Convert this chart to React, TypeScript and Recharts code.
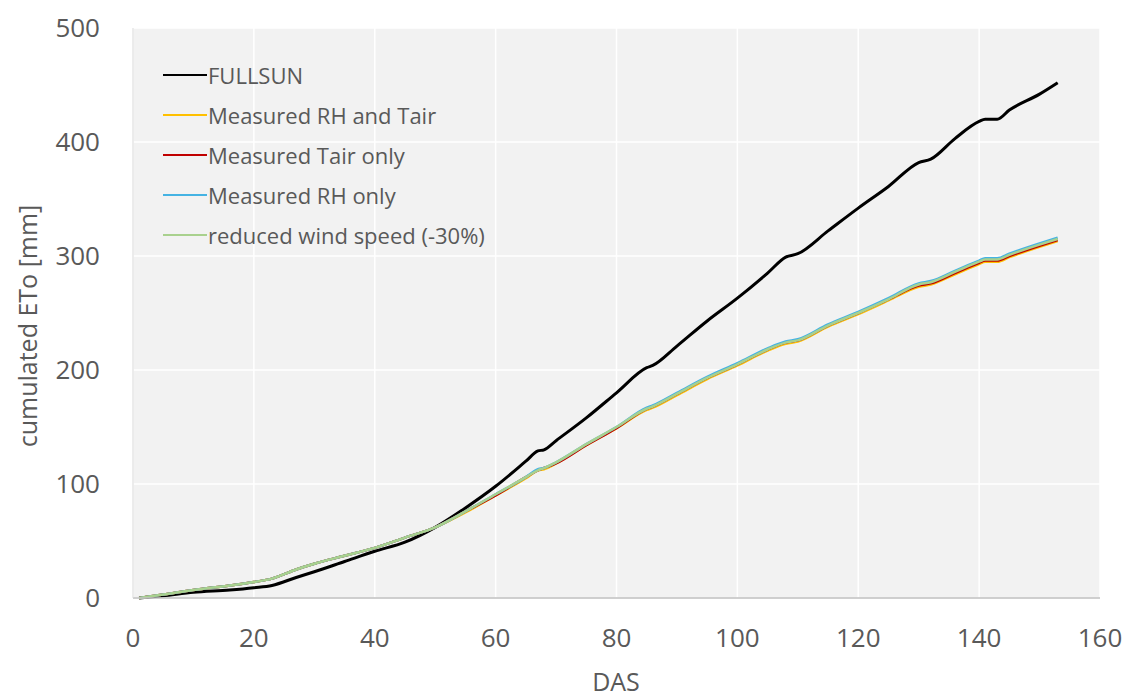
import React from 'react'
import {
  LineChart,
  Line,
  XAxis,
  YAxis,
  CartesianGrid,
  Legend,
} from 'recharts'

// DAS sample points
const das = [1, 5, 10, 16, 20, 23, 27, 30, 35, 40, 45, 50, 55, 60, 65, 67, 68, 70, 75, 80, 85, 86, 90, 95, 100, 105, 108, 110, 115, 120, 125, 130, 132, 136, 140, 141, 143, 145, 150, 153]

const fullsun = [0, 2, 5, 7, 9, 11, 18, 23, 32, 41, 49, 62, 79, 98, 120, 129, 130, 138, 158, 180, 202, 204, 221, 243, 263, 285, 299, 302, 322, 342, 361, 382, 385, 403, 418, 420, 420, 428, 442, 452]
const rhAndTair = [0, 3, 7, 11, 14, 17, 25, 30, 37, 44, 53, 62, 75, 90, 105, 112, 113, 118, 134, 149, 165, 167, 178, 192, 204, 217, 223, 225, 238, 249, 261, 273, 275, 284, 293, 295, 295, 299, 308, 313]
const tairOnly = [0, 3, 7, 11, 14, 17, 25, 30, 37, 44, 53, 62, 76, 90, 106, 112, 114, 118, 134, 149, 166, 168, 179, 193, 205, 218, 224, 226, 239, 250, 262, 274, 276, 285, 294, 296, 296, 300, 309, 314]
const rhOnly = [0, 3, 7, 11, 14, 17, 25, 30, 37, 44, 53, 62, 76, 91, 106, 113, 114, 119, 135, 150, 167, 169, 180, 194, 206, 219, 225, 227, 240, 251, 263, 276, 278, 287, 296, 298, 298, 302, 311, 316]
const windReduced = [0, 3, 7, 11, 14, 17, 25, 30, 37, 44, 53, 62, 76, 91, 106, 112, 114, 119, 135, 150, 166, 168, 179, 193, 205, 218, 224, 226, 239, 250, 262, 275, 277, 286, 295, 297, 297, 301, 310, 315]

const xTicks = [0, 20, 40, 60, 80, 100, 120, 140, 160]
const yTicks = [0, 100, 200, 300, 400, 500]

const series = [
  { key: 'fullsun', name: 'FULLSUN', color: '#000000', width: 3, values: fullsun },
  { key: 'rhAndTair', name: 'Measured RH and Tair', color: '#FFC000', width: 2.5, values: rhAndTair },
  { key: 'tairOnly', name: 'Measured Tair only', color: '#C00000', width: 2.5, values: tairOnly },
  { key: 'rhOnly', name: 'Measured RH only', color: '#45B3E3', width: 2.5, values: rhOnly },
  { key: 'windReduced', name: 'reduced wind speed (-30%)', color: '#A9D18E', width: 2.5, values: windReduced },
]

const data = das.map((d, i) => {
  const row: any = { das: d }
  series.forEach((s) => {
    row[s.key] = s.values[i]
  })
  return row
})

const textColor = '#595959'
const font = '"Open Sans", sans-serif'

function ChartLegend() {
  return (
    <div style={{ fontFamily: font, fontSize: 22, color: textColor }}>
      {series.map((s) => (
        <div key={s.key} style={{ display: 'flex', alignItems: 'center', height: 40 }}>
          <span style={{ display: 'inline-block', width: 44, height: 0, borderTop: `2.5px solid ${s.color}`, marginRight: 1 }} />
          <span>{s.name}</span>
        </div>
      ))}
    </div>
  )
}

export default function App() {
  return (
    <div style={{ position: 'absolute', left: 0, top: 0, width: 1132, height: 700, background: '#fff' }}>
      <LineChart width={1132} height={700} data={data} margin={{ top: 28, right: 32, left: 0, bottom: 0 }}>
        <CartesianGrid fill="#f2f2f2" stroke="#ffffff" strokeWidth={1.5} verticalValues={xTicks} horizontalValues={yTicks} />
        <XAxis
          dataKey="das"
          type="number"
          domain={[0, 160]}
          ticks={xTicks}
          height={102}
          axisLine={{ stroke: '#bfbfbf', strokeWidth: 1.5 }}
          tickLine={false}
          tickSize={0}
          tickMargin={31}
          tick={{ fill: textColor, fontSize: 26, fontFamily: font }}
        />
        <YAxis
          type="number"
          domain={[0, 500]}
          ticks={yTicks}
          width={133}
          axisLine={{ stroke: '#d9d9d9', strokeWidth: 1 }}
          tickLine={false}
          tickSize={0}
          tickMargin={33}
          tick={{ fill: textColor, fontSize: 26, fontFamily: font }}
        />
        <Legend
          layout="vertical"
          align="center"
          verticalAlign="middle"
          content={() => <ChartLegend />}
          wrapperStyle={{ left: 163, top: 55, width: 420, height: 210 }}
        />
        {series.map((s) => (
          <Line
            key={s.key}
            type="monotone"
            dataKey={s.key}
            name={s.name}
            stroke={s.color}
            strokeWidth={s.width}
            dot={false}
            activeDot={false}
            isAnimationActive={false}
          />
        ))}
        <text x={27} y={326} transform="rotate(-90 27 326)" textAnchor="middle" dominantBaseline="central" fill={textColor} fontSize={25} fontFamily={font}>
          cumulated ETo [mm]
        </text>
        <text x={616} y={681} textAnchor="middle" dominantBaseline="central" fill={textColor} fontSize={25} fontFamily={font}>
          DAS
        </text>
      </LineChart>
    </div>
  )
}
